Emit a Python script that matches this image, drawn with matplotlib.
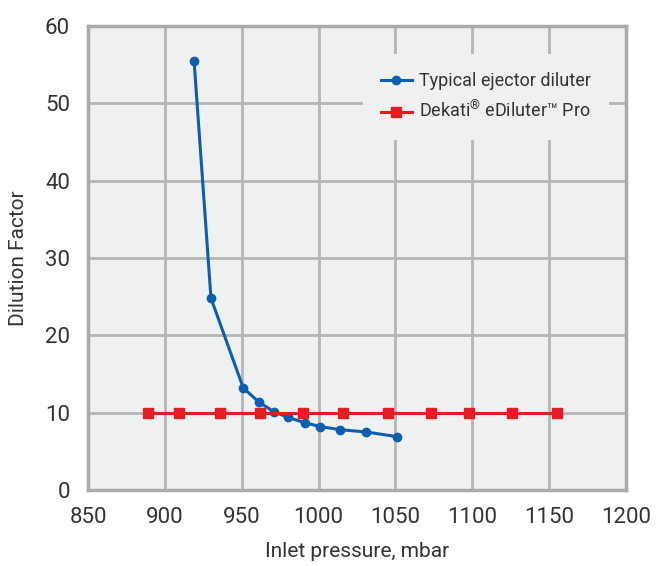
import matplotlib
matplotlib.use("Agg")
import matplotlib.pyplot as plt

# data
ejector_p = [919, 930, 951, 961, 971, 980, 991, 1001, 1014, 1031, 1051]
ejector_df = [55.5, 24.8, 13.2, 11.4, 10.1, 9.4, 8.7, 8.2, 7.8, 7.5, 6.9]

ediluter_p = [889, 909, 936, 962, 990, 1016, 1045, 1073, 1098, 1126, 1155]
ediluter_df = [10, 10, 10, 10, 10, 10, 10, 10, 10, 10, 10]

xticks = [850, 900, 950, 1000, 1050, 1100, 1150, 1200]
yticks = [0, 10, 20, 30, 40, 50, 60]

plt.rcParams["font.family"] = ["Roboto", "DejaVu Sans"]
plt.rcParams["mathtext.fontset"] = "custom"
plt.rcParams["mathtext.rm"] = "Roboto"

txt = "#333333"
gridc = "#b4b5b7"

fig = plt.figure(figsize=(6.56, 5.66), dpi=100)
ax = fig.add_axes([88/656, 1 - 490/566, 538/656, 464/566])
ax.set_facecolor("#eff0f0")

ax.plot(ejector_p, ejector_df, color="#0b5fae", lw=2.2, marker="o", ms=6,
        label="Typical ejector diluter", zorder=3)
ax.plot(ediluter_p, ediluter_df, color="#e41c24", lw=2.2, marker="s", ms=7,
        label="Dekati$^{\\mathrm{\u00ae}}$ eDiluter\u2122 Pro", zorder=3)

ax.set_xlim(850, 1200)
ax.set_ylim(0, 60)
ax.set_xticks(xticks)
ax.set_yticks(yticks)
ax.grid(True, color=gridc, lw=2)
ax.set_axisbelow(True)
for s in ax.spines.values():
    s.set_color("#a9aaac")
    s.set_linewidth(2.5)
ax.tick_params(length=0, labelsize=16, colors=txt, pad=12)
ax.tick_params(axis="y", pad=13)

ax.set_xlabel("Inlet pressure, mbar", fontsize=15, color=txt, labelpad=10)
ax.set_ylabel("Dilution Factor", fontsize=15, color=txt, labelpad=12)

leg = ax.legend(loc="upper right", bbox_to_anchor=(0.968, 0.94),
                borderaxespad=0, fontsize=13,
                frameon=True, facecolor="#eff0f0", edgecolor="none",
                framealpha=1, fancybox=False, handlelength=1.7,
                handletextpad=0.4, borderpad=1.0, labelspacing=0.62)
for t in leg.get_texts():
    t.set_color(txt)

fig.savefig("out.png", dpi=100)
